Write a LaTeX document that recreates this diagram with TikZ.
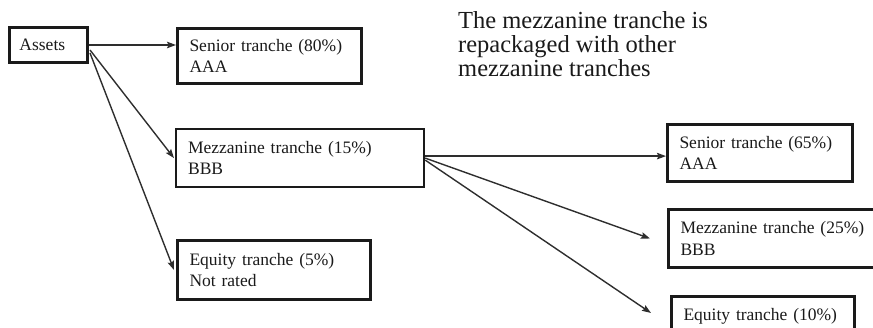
\documentclass[tikz,border=0pt]{standalone}
\usepackage{fontspec}
\setmainfont{Liberation Serif}
\usetikzlibrary{arrows.meta}
\definecolor{ink}{HTML}{1A1A1A}
\definecolor{wire}{HTML}{2E2E2E}
\newcommand{\boxfont}{\fontsize{17.5}{21.5}\selectfont}
\newcommand{\notefont}{\fontsize{24.5}{24}\selectfont}
\tikzset{
  tbox/.style={draw=ink, line width=3pt, rectangle, anchor=north west,
    inner xsep=12pt, inner ysep=0pt, align=left, text=ink, font=\boxfont},
  flow/.style={draw=wire, line width=1.4pt,
    -{Stealth[length=9pt, width=6.5pt, inset=1.5pt]}}
}
\begin{document}
\begin{tikzpicture}[x=1pt, y=-1pt]
  \useasboundingbox (0,0) rectangle (873,328);
  \clip (0,0) rectangle (873,328);

  % first securitisation
  \node[tbox, inner xsep=10pt, text width=58pt, minimum height=35pt] (assets) at (8,26) {Assets};
  \node[tbox, text width=160pt, minimum height=55pt] (sen80) at (176,27) {Senior tranche (80\%)\\AAA};
  \node[tbox, line width=2.2pt, text width=224pt, minimum height=58pt] (mez15) at (175,128) {Mezzanine tranche (15\%)\\BBB};
  \node[tbox, text width=169pt, minimum height=59pt] (eq5) at (176,239) {Equity tranche (5\%)\\Not rated};

  % note
  \node[anchor=north west, inner sep=0pt, align=left, text=ink, font=\notefont] (note) at (458,11)
    {The mezzanine tranche is\\repackaged with other\\mezzanine tranches};

  % second securitisation
  \node[tbox, text width=161pt, minimum height=57pt] (sen65) at (666,123) {Senior tranche (65\%)\\AAA};
  \node[tbox, text width=200pt, minimum height=58pt] (mez25) at (667,208) {Mezzanine tranche (25\%)\\BBB};
  \node[tbox, text width=159pt, minimum height=57pt, text depth=22pt] (eq10) at (670,295) {Equity tranche (10\%)};

  % connectors
  \draw[flow] (assets.east) -- (assets.east -| sen80.west);
  \draw[flow] ([xshift=1pt, yshift=-5pt]assets.east) -- ([xshift=-1pt]mez15.west);
  \draw[flow] ([xshift=1pt, yshift=-8pt]assets.east) -- ([xshift=-2pt]eq5.west);

  \draw[flow] ([yshift=2pt]mez15.east) -- ([yshift=2pt]mez15.east -| sen65.west);
  \draw[flow] (mez15.east) -- ([xshift=-17pt]mez25.west);
  \draw[flow] ([yshift=-2pt]mez15.east) -- ([xshift=-19pt, yshift=12pt]eq10.west);
\end{tikzpicture}
\end{document}
